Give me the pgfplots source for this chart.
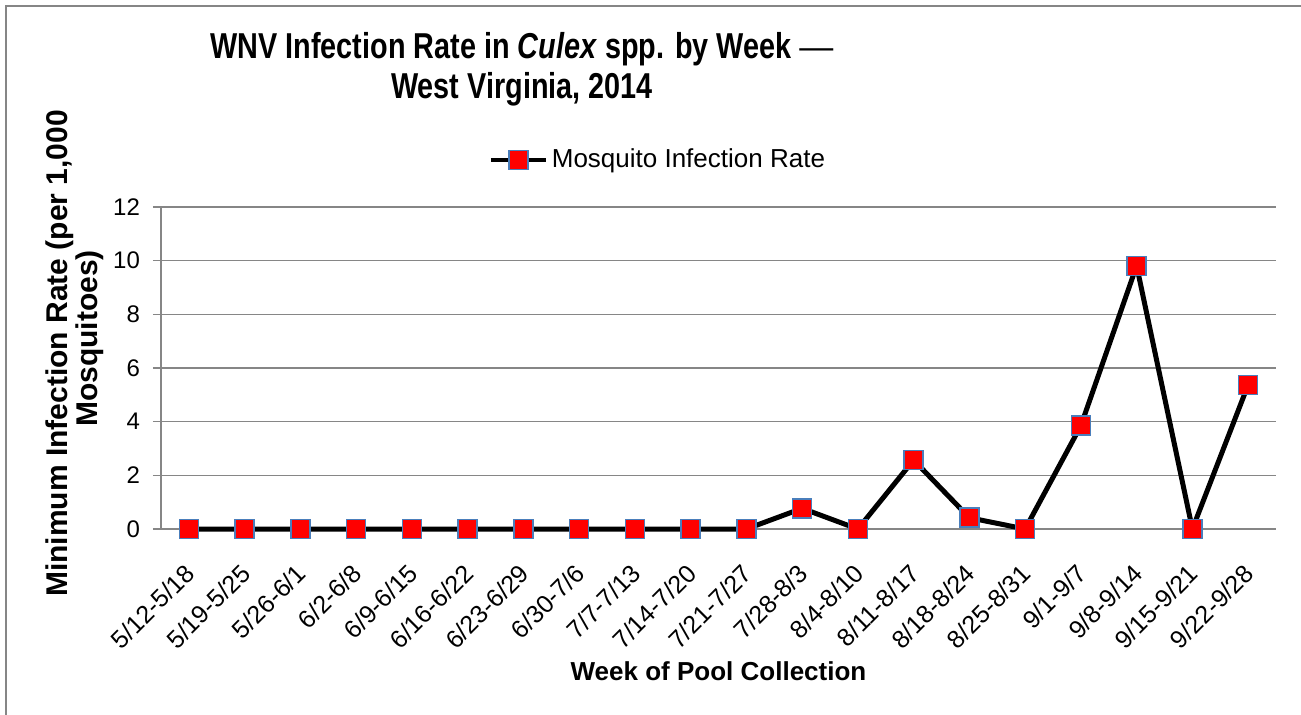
\documentclass[border=0pt]{standalone}
\usepackage{fontspec}
\setmainfont{Liberation Sans}
\newfontfamily\titlefont[FakeStretch=0.8]{Liberation Sans}
\usepackage{pgfplots}
\pgfplotsset{compat=1.18}
\definecolor{gridgray}{HTML}{868686}
\definecolor{mkborder}{HTML}{4A7EBB}
\begin{document}
\begin{tikzpicture}
\draw[gridgray, line width=1pt] (3pt,-400pt) -- (3pt,-3pt) -- (700pt,-3pt);
\node[align=center, font=\titlefont\fontsize{18}{20}\selectfont\bfseries] at (261pt,-34.5pt)
  {WNV Infection Rate in \textit{Culex} spp. by Week {\normalfont\fontsize{17}{20}\selectfont —}\\West Virginia, 2014};
\begin{axis}[
  at={(80.5pt,-264.5pt)}, anchor=south west,
  scale only axis, width=557.5pt, height=161pt,
  xmin=-0.5, xmax=19.5, ymin=0, ymax=12,
  ytick={0,2,...,12},
  xtick={0,...,19},
  xticklabels={5/12-5/18,5/19-5/25,5/26-6/1,6/2-6/8,6/9-6/15,6/16-6/22,6/23-6/29,6/30-7/6,7/7-7/13,7/14-7/20,7/21-7/27,7/28-8/3,8/4-8/10,8/11-8/17,8/18-8/24,8/25-8/31,9/1-9/7,9/8-9/14,9/15-9/21,9/22-9/28},
  axis x line=bottom, axis y line=left,
  axis line style={gridgray, line width=0.75pt, -},
  ymajorgrids, major grid style={gridgray, line width=0.75pt},
  tick align=outside, major tick length=4pt,
  ytick style={gridgray, line width=0.75pt},
  xtick style={draw=none},
  /pgf/number format/assume math mode=true,
  yticklabel style={font=\fontsize{12}{14}\selectfont, xshift=-3pt},
  xticklabel style={font=\fontsize{12.5}{15}\selectfont, xshift=3pt, yshift=-13.5pt, rotate=45, anchor=east},
  xlabel={Week of Pool Collection},
  xlabel style={font=\fontsize{13}{15}\selectfont\bfseries, at={(axis description cs:0.5,-0.441)}, anchor=center},
  ylabel={Minimum Infection Rate (per 1,000\\\hspace*{15pt}Mosquitoes)},
  ylabel style={font=\fontsize{15}{15}\selectfont\bfseries, align=center, at={(axis description cs:-0.077,0.545)}, anchor=center},
  legend style={draw=none, fill=none, at={(axis description cs:0.4466,1.146)}, anchor=center, font=\fontsize{13}{15}\selectfont, inner sep=0pt, nodes={inner sep=2pt}},
  legend image code/.code={\draw[mark repeat=2, mark phase=2, line width=2pt] plot coordinates {(0pt,0pt) (13.75pt,0pt) (27.5pt,0pt)};},
  clip=false,
]
\addplot[black, line width=2.5pt, mark=square*, mark size=4.75pt,
  mark options={fill=red, draw=mkborder, line width=0.75pt, solid}]
  coordinates {(0,0) (1,0) (2,0) (3,0) (4,0) (5,0) (6,0) (7,0) (8,0) (9,0) (10,0)
  (11,0.77) (12,0) (13,2.57) (14,0.42) (15,0) (16,3.85) (17,9.81) (18,0) (19,5.37)};
\addlegendentry{Mosquito Infection Rate}
\end{axis}
\pgfresetboundingbox
\useasboundingbox (0pt,0pt) rectangle (650.5pt,-357pt);
\end{tikzpicture}
\end{document}
